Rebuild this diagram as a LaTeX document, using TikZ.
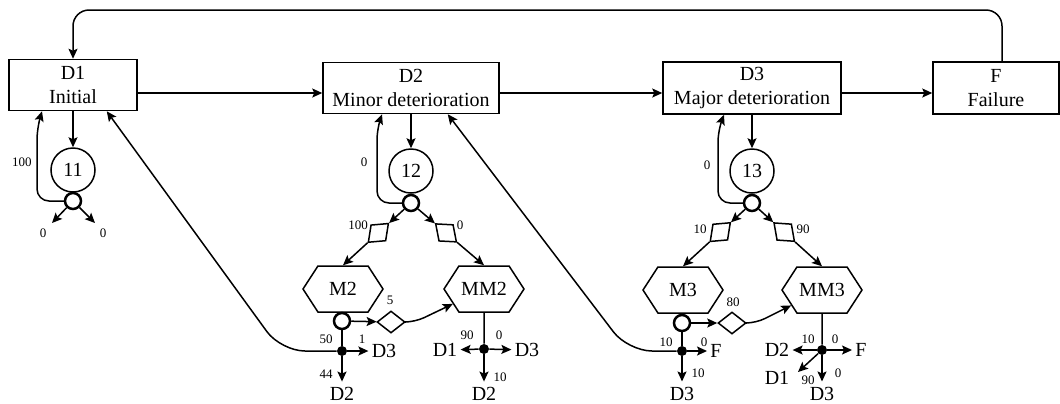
\documentclass[tikz,border=0pt]{standalone}
\usepackage{fontspec}
\setmainfont{Liberation Serif}
\usetikzlibrary{arrows.meta,positioning,calc,shapes.geometric,shapes.symbols}

\begin{document}
\begin{tikzpicture}[x=0.5pt,y=-0.5pt,
    state/.style={draw,line width=0.75pt,align=center,inner sep=0pt,font=\fontsize{10}{12}\selectfont},
    insp/.style={draw,circle,line width=0.75pt,minimum size=22pt,inner sep=0pt,font=\fontsize{10}{12}\selectfont},
    ring/.style={draw,circle,line width=1.25pt,minimum size=8pt,inner sep=0pt},
    dot/.style={fill,circle,minimum size=5pt,inner sep=0pt},
    choice/.style={draw,diamond,line width=0.75pt,minimum width=14pt,minimum height=11pt,inner sep=0pt},
    maint/.style={draw,signal,signal to=west and east,signal pointer angle=114,line width=0.75pt,minimum width=40pt,minimum height=23pt,inner sep=0pt,font=\fontsize{10}{12}\selectfont},
    dest/.style={inner xsep=1.5pt,inner ysep=2.7pt,font=\fontsize{10}{12}\selectfont},
    prob/.style={inner sep=0pt,font=\fontsize{6.5}{7}\selectfont},
    arr/.style={-{Stealth[length=5pt,width=4.5pt,inset=1pt]},line width=0.75pt},
    wire/.style={line width=0.75pt}]

    \useasboundingbox (0,0) rectangle (1060,403);

    % condition states
    \node [state,minimum width=64pt,minimum height=25.5pt] (D1) at (73,85) {D1\\Initial};
    \node [state,minimum width=88pt,minimum height=25.5pt] (D2) at (411,88) {D2\\Minor deterioration};
    \node [state,minimum width=89pt,minimum height=26pt] (D3) at (752,88) {D3\\Major deterioration};
    \node [state,minimum width=63pt,minimum height=26pt] (F) at (996,88) {F\\Failure};
    \coordinate (back) at (73,10);

    \draw [arr] ([yshift=-4pt]D1.east) -- ([yshift=-4pt]D1.east -| D2.west);
    \draw [arr] ([yshift=-2.5pt]D2.east) -- ([yshift=-2.5pt]D3.west);
    \draw [arr] ([yshift=-2.5pt]D3.east) -- ([yshift=-2.5pt]F.west);
    \draw [arr,rounded corners=8pt] ([xshift=3pt]F.north) |- (back) -- (D1.north);

    % inspection of D1
    \node [insp] (I1) at (73,170) {11};
    \node [ring] (s11) at (73,201) {};
    \coordinate (e11a) at (52,223);
    \coordinate (e11b) at (95,223);
    \draw [arr] (D1) -- (I1);
    \draw [arr,rounded corners=6pt] (s11.west) -- (37,201) -- (37,128) -- ([xshift=-15.5pt]D1.south);
    \draw [arr] (s11) -- (e11a);
    \draw [arr] (s11) -- (e11b);
    \node [prob] (p11a) at (22,162) {100};
    \node [prob] (p11b) at (43,233) {0};
    \node [prob] (p11c) at (103,233) {0};

    % inspection of D2
    \node [insp] (I2) at (411,171) {12};
    \node [ring] (s12) at (411,203) {};
    \node [maint] (M2) at (343,289) {M2};
    \node [maint] (MM2) at (484,289) {MM2};
    \node [choice,rotate=43] (q2a) at ($(s12)!0.48!(M2.north)$) {};
    \node [choice,rotate=-41] (q2b) at ($(s12)!0.48!(MM2.north)$) {};
    \draw [arr] (D2) -- (I2);
    \draw [arr,rounded corners=6pt] (s12.west) -- (377,203) -- (377,128) -- ([xshift=-14.5pt]D2.south);
    \draw [arr] (s12) -- (q2a);
    \draw [arr] (q2a) -- (M2.north);
    \draw [arr] (s12) -- (q2b);
    \draw [arr] (q2b) -- (MM2.north);
    \node [prob] (p12a) at (364,162) {0};
    \node [prob] (p12b) at (358,225) {100};
    \node [prob] (p12c) at (460,225) {0};

    \node [ring] (s2) at (342,321) {};
    \node [choice] (q2c) at (391,322) {};
    \node [dot] (j2) at (342,351) {};
    \node [dest] (t2a) at (384,351) {D3};
    \node [dest] (t2b) at (342,394) {D2};
    \draw [arr] (s2) -- (q2c);
    \draw [arr,rounded corners=5pt] (q2c) -- (415,322) -- (MM2);
    \draw [wire] (s2) -- (j2);
    \draw [arr] (j2) -- (t2a);
    \draw [arr] (j2) -- (t2b);
    \draw [arr,rounded corners=12pt] (j2) -- (281,351) -- ([xshift=-15.5pt]D1.south east);
    \node [prob] (p2a) at (390,300) {5};
    \node [prob] (p2b) at (326,339) {50};
    \node [prob] (p2c) at (362,339) {1};
    \node [prob] (p2d) at (326,374) {44};

    \node [dot] (j2m) at (484,349) {};
    \node [dest] (t2c) at (445,350) {D1};
    \node [dest] (t2d) at (527,350) {D3};
    \node [dest] (t2e) at (484,394) {D2};
    \draw [wire] (MM2) -- (j2m);
    \draw [arr] (j2m) -- (t2c);
    \draw [arr] (j2m) -- (t2d);
    \draw [arr] (j2m) -- (t2e);
    \node [prob] (p2e) at (467,335) {90};
    \node [prob] (p2f) at (499,335) {0};
    \node [prob] (p2g) at (500,377) {10};

    % inspection of D3
    \node [insp] (I3) at (752,171) {13};
    \node [ring] (s13) at (752,203) {};
    \node [maint] (M3) at (683,290) {M3};
    \node [maint] (MM3) at (822,290) {MM3};
    \node [choice,rotate=43] (q3a) at ($(s13)!0.46!(M3.north)$) {};
    \node [choice,rotate=-42] (q3b) at ($(s13)!0.46!(MM3.north)$) {};
    \draw [arr] (D3) -- (I3);
    \draw [arr,rounded corners=6pt] (s13.west) -- (718,203) -- (718,130) -- ([xshift=-14pt]D3.south);
    \draw [arr] (s13) -- (q3a);
    \draw [arr] (q3a) -- (M3.north);
    \draw [arr] (s13) -- (q3b);
    \draw [arr] (q3b) -- (MM3.north);
    \node [prob] (p13a) at (707,165) {0};
    \node [prob] (p13b) at (700,229) {10};
    \node [prob] (p13c) at (803,229) {90};

    \node [ring] (s3) at (682,323) {};
    \node [choice] (q3c) at (732,323) {};
    \node [dot] (j3) at (682,351) {};
    \node [dest] (t3a) at (716,351) {F};
    \node [dest] (t3b) at (682,394) {D3};
    \draw [arr] (s3) -- (q3c);
    \draw [arr,rounded corners=5pt] (q3c) -- (756,323) -- (MM3);
    \draw [wire] (s3) -- (j3);
    \draw [arr] (j3) -- (t3a);
    \draw [arr] (j3) -- (t3b);
    \draw [arr,rounded corners=12pt] (j3) -- (628,351) -- ([xshift=-26pt]D2.south east);
    \node [prob] (p3a) at (733,302) {80};
    \node [prob] (p3b) at (666,342) {10};
    \node [prob] (p3c) at (704,342) {0};
    \node [prob] (p3d) at (698,373) {10};

    \node [dot] (j3m) at (822,350) {};
    \node [dest] (t3c) at (777,350) {D2};
    \node [dest] (t3d) at (861,350) {F};
    \node [dest] (t3e) at (822,394) {D3};
    \node [dest] (t3f) at (777,378) {D1};
    \coordinate (e3f) at (798,372);
    \draw [wire] (MM3) -- (j3m);
    \draw [arr] (j3m) -- (t3c);
    \draw [arr] (j3m) -- (t3d);
    \draw [arr] (j3m) -- (t3e);
    \draw [arr] (j3m) -- (e3f);
    \node [prob] (p3e) at (808,339) {10};
    \node [prob] (p3f) at (835,339) {0};
    \node [prob] (p3g) at (808,380) {90};
    \node [prob] (p3h) at (838,373) {0};
\end{tikzpicture}
\end{document}
